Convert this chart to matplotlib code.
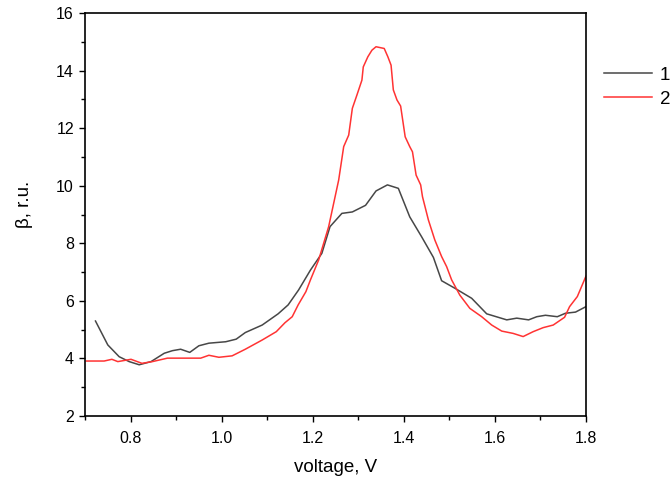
import matplotlib
matplotlib.use("Agg")
import matplotlib.pyplot as plt
from matplotlib.ticker import MultipleLocator, FormatStrFormatter

plt.rcParams['font.family'] = ['Liberation Sans', 'DejaVu Sans']

# Series 1 (dark curve)
v1 = [0.723, 0.750, 0.775, 0.797, 0.819, 0.845, 0.874, 0.892, 0.910, 0.930,
      0.950, 0.972, 1.009, 1.032, 1.052, 1.089, 1.124, 1.146, 1.169, 1.195,
      1.220, 1.238, 1.264, 1.287, 1.316, 1.339, 1.364, 1.388, 1.413, 1.439,
      1.465, 1.483, 1.512, 1.549, 1.582, 1.626, 1.648, 1.674, 1.692, 1.711,
      1.737, 1.755, 1.777, 1.800]
b1 = [5.30, 4.47, 4.06, 3.89, 3.78, 3.89, 4.18, 4.27, 4.32, 4.21,
      4.44, 4.53, 4.58, 4.67, 4.90, 5.16, 5.55, 5.86, 6.38, 7.07,
      7.65, 8.58, 9.04, 9.09, 9.32, 9.82, 10.03, 9.91, 8.92, 8.23,
      7.51, 6.70, 6.44, 6.09, 5.55, 5.34, 5.40, 5.34, 5.45, 5.50,
      5.45, 5.57, 5.61, 5.80]

# Series 2 (red curve)
v2 = [0.703, 0.742, 0.759, 0.772, 0.801, 0.825, 0.848, 0.881, 0.954, 0.972,
      0.994, 1.023, 1.052, 1.089, 1.120, 1.139, 1.155, 1.168, 1.185, 1.195,
      1.213, 1.235, 1.257, 1.268, 1.279, 1.287, 1.297, 1.308, 1.311, 1.321,
      1.330, 1.339, 1.357, 1.365, 1.372, 1.377, 1.385, 1.393, 1.403, 1.413,
      1.419, 1.427, 1.437, 1.441, 1.454, 1.468, 1.483, 1.494, 1.505, 1.523,
      1.545, 1.571, 1.593, 1.615, 1.640, 1.662, 1.684, 1.706, 1.728, 1.753,
      1.764, 1.781, 1.800]
b2 = [3.91, 3.91, 3.97, 3.89, 3.97, 3.83, 3.89, 4.01, 4.01, 4.11,
      4.04, 4.09, 4.32, 4.64, 4.93, 5.24, 5.45, 5.86, 6.32, 6.73,
      7.42, 8.58, 10.20, 11.36, 11.76, 12.69, 13.15, 13.67, 14.13, 14.48,
      14.71, 14.83, 14.77, 14.48, 14.19, 13.33, 12.98, 12.77, 11.70, 11.36,
      11.18, 10.37, 10.03, 9.62, 8.81, 8.12, 7.54, 7.19, 6.73, 6.20,
      5.74, 5.45, 5.16, 4.95, 4.87, 4.76, 4.93, 5.07, 5.16, 5.43,
      5.80, 6.15, 6.86]

labels = ["1", "2"]
colors = ["#474747", "#ff3333"]

fig = plt.figure(figsize=(6.72, 4.84), dpi=100)
ax = fig.add_axes([0.1265, 0.1405, 0.7455, 0.8325])

ax.plot(v1, b1, color=colors[0], lw=1.1, label=labels[0])
ax.plot(v2, b2, color=colors[1], lw=1.1, label=labels[1])

ax.set_xlim(0.7, 1.8)
ax.set_ylim(2, 16)
ax.xaxis.set_major_locator(MultipleLocator(0.2))
ax.xaxis.set_minor_locator(MultipleLocator(0.1))
ax.yaxis.set_major_locator(MultipleLocator(2))
ax.yaxis.set_minor_locator(MultipleLocator(1))
ax.xaxis.set_major_formatter(FormatStrFormatter('%.1f'))

ax.tick_params(which='major', direction='out', length=4.5, width=1,
               labelsize=11.5)
ax.tick_params(axis='x', which='major', pad=6)
ax.tick_params(which='minor', direction='out', length=3, width=1)
ax.tick_params(top=False, right=False, which='both')
for s in ax.spines.values():
    s.set_linewidth(1.2)

ax.set_xlabel("voltage, V", fontsize=13.5, labelpad=10)
ax.set_ylabel("β, r.u.", fontsize=13.5)
ax.yaxis.set_label_coords(-0.103, 0.526)

ax.legend(loc='upper left', bbox_to_anchor=(1.02, 0.885), frameon=False,
          fontsize=13.5, handlelength=2.6, handletextpad=0.4,
          labelspacing=0.35, borderaxespad=0)

fig.savefig("out.png", dpi=100)
